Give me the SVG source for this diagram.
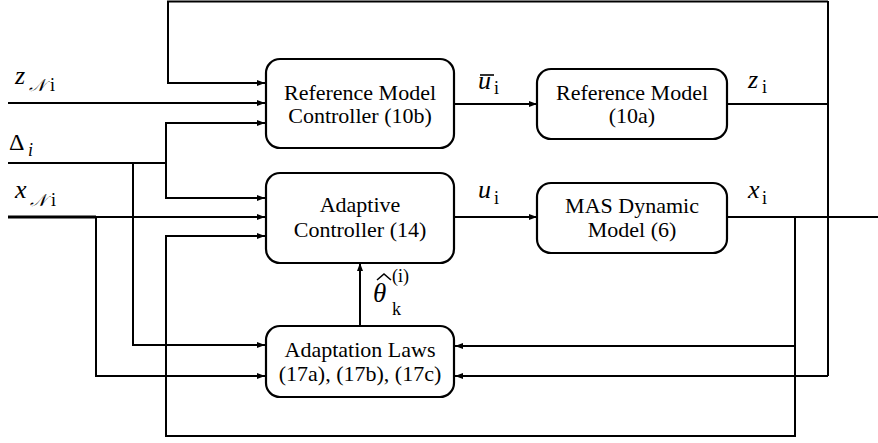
<svg xmlns="http://www.w3.org/2000/svg" width="878" height="443" viewBox="0 0 878 443">
<defs>
<marker id="ah" markerWidth="9" markerHeight="7" refX="8" refY="3.5" orient="auto" markerUnits="userSpaceOnUse">
<path d="M0,0.5 L8,3.5 L0,6.5 z" fill="#000"/>
</marker>
<style>
.box{fill:#fff;stroke:#000;stroke-width:2.2}
.t{font-family:"Liberation Serif",serif;font-size:22px;text-anchor:middle;fill:#000}
.w{fill:none;stroke:#000;stroke-width:2}
.a{fill:none;stroke:#000;stroke-width:2;marker-end:url(#ah)}
.m{font-family:"Liberation Serif",serif;font-style:italic;font-size:26px;fill:#000}
.s{font-family:"Liberation Serif",serif;font-size:18px;fill:#000}
.c{font-family:"DejaVu Serif","Noto Sans",serif;font-style:italic;font-size:17px;fill:#000}
</style>
</defs>
<rect width="878" height="443" fill="#fff"/>
<g id="connectors">
<path class="w" d="M828,1 V376"/>
<path class="a" d="M828,1.5 H168 V83 H265"/>
<path class="w" d="M727,104 H828"/>
<path class="a" d="M828,376 H455"/>
<path class="w" d="M727,217 H878"/>
<path class="a" d="M795,217 V436 H166 V236 H265"/>
<path class="a" d="M795,346 H455"/>
<path class="a" d="M454,104 H537"/>
<path class="a" d="M454,217 H537"/>
<path class="a" d="M360,326 V263"/>
<path class="a" d="M8,103 H265"/>
<path class="w" d="M8,163 H166"/>
<path class="a" d="M166,163 V123 H265"/>
<path class="a" d="M166,163 V198 H265"/>
<path class="a" d="M133,163 V345 H265"/>
<path fill="none" stroke="#000" stroke-width="3" d="M8,217 H96"/>
<path class="a" d="M96,217 H265"/>
<path class="a" d="M96,217 V376 H265"/>
</g>
<g id="rmc">
<rect class="box" x="266" y="59" width="188" height="89" rx="14"/>
<text class="t" x="360" y="100">Reference Model</text>
<text class="t" x="360" y="123">Controller (10b)</text>
</g>
<g id="rm">
<rect class="box" x="537" y="69" width="190" height="70" rx="14"/>
<text class="t" x="632" y="100">Reference Model</text>
<text class="t" x="632" y="123">(10a)</text>
</g>
<g id="ac">
<rect class="box" x="266" y="173" width="188" height="90" rx="14"/>
<text class="t" x="360" y="212">Adaptive</text>
<text class="t" x="360" y="237">Controller (14)</text>
</g>
<g id="mas">
<rect class="box" x="537" y="183" width="190" height="70" rx="14"/>
<text class="t" x="632" y="213">MAS Dynamic</text>
<text class="t" x="632" y="237">Model (6)</text>
</g>
<g id="al">
<rect class="box" x="266" y="326" width="188" height="71" rx="14"/>
<text class="t" x="360" y="357">Adaptation Laws</text>
<text class="t" x="360" y="381">(17a), (17b), (17c)</text>
</g>
<g id="labels">
<text class="m" x="15" y="84">z</text>
<text class="c" x="29" y="91">𝒩</text>
<text class="s" x="50" y="91">i</text>
<text class="s" x="9" y="150" style="font-size:24px">Δ</text>
<text class="m" x="28" y="156" style="font-size:18px">i</text>
<text class="m" x="15" y="198">x</text>
<text class="c" x="30" y="206">𝒩</text>
<text class="s" x="51" y="206">i</text>
<text class="m" x="478" y="89">u</text>
<path d="M480,75 H494" stroke="#000" stroke-width="1.6"/>
<text class="s" x="494" y="94">i</text>
<text class="m" x="748" y="88">z</text>
<text class="s" x="762" y="93">i</text>
<text class="m" x="478" y="198">u</text>
<text class="s" x="494" y="204">i</text>
<text class="m" x="748" y="198">x</text>
<text class="s" x="762" y="204">i</text>
<text class="m" x="373" y="302" style="font-size:27px">θ</text>
<path d="M377,280 L384,274 L391,280" fill="none" stroke="#000" stroke-width="1.6"/>
<text class="s" x="392" y="315">k</text>
<text class="s" x="392" y="282">(i)</text>
</g>
</svg>
